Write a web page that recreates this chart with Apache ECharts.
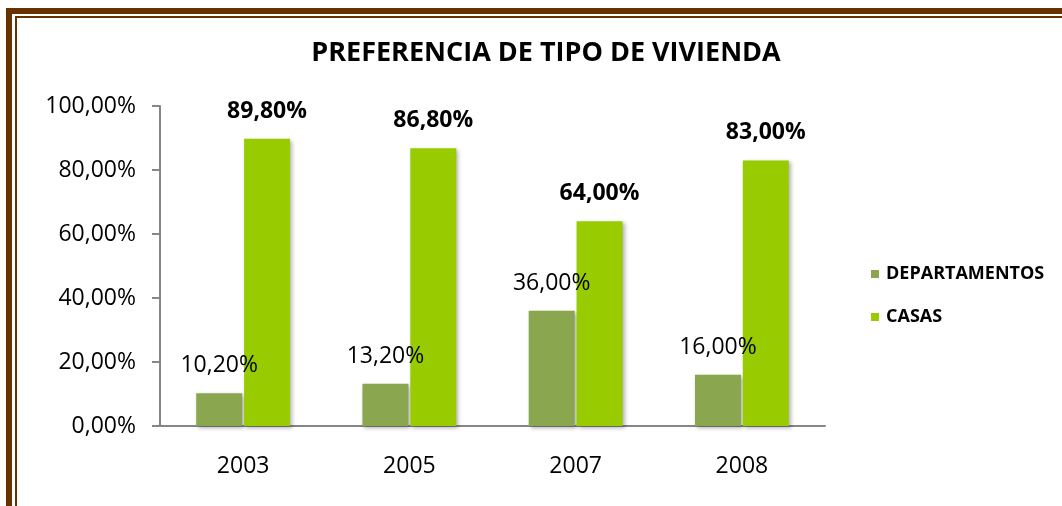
<!DOCTYPE html>
<html lang="es">
<head>
    <meta charset="UTF-8">
    <title>Preferencia de tipo de vivienda</title>
    <script type="text/javascript" src="https://cdn.jsdelivr.net/npm/echarts@6/dist/echarts.min.js"></script>
    <style type="text/css">
        html,body{margin:0;padding:0;background:#fff;}
        #main{position:absolute;left:0;top:0;width:1062px;height:506px;}
        .frameOut{position:absolute;left:6px;top:8px;width:1200px;height:600px;
            border-left:6px solid #663300;border-top:6px solid #663300;pointer-events:none;}
        .frameIn{position:absolute;left:15px;top:16px;width:1200px;height:600px;
            border-left:2px solid #663300;border-top:2px solid #663300;pointer-events:none;}
    </style>
</head>
<body>
<div id="main"></div>
<div class="frameOut"></div>
<div class="frameIn"></div>
<script type="text/javascript">
    // datos del grafico
    var years = ["2003", "2005", "2007", "2008"];
    var departamentos = [10.2, 13.2, 36.0, 16.0];
    var casas = [89.8, 86.8, 64.0, 83.0];
    var yTicks = [0, 20, 40, 60, 80, 100];

    var fontFam = "'Open Sans', sans-serif";

    function pct(v) {
        return v.toFixed(2).replace('.', ',') + '%';
    }

    var myChart = echarts.init(document.getElementById('main'));
    var option = {
        backgroundColor: 'transparent',
        textStyle: {fontFamily: fontFam},
        title: {
            text: 'PREFERENCIA DE TIPO DE VIVIENDA',
            left: 541,
            textAlign: 'center',
            top: 35,
            textStyle: {color: '#000', fontWeight: 'bold', fontSize: 27, fontFamily: fontFam}
        },
        legend: {
            orient: 'vertical',
            left: 866,
            top: 260,
            itemWidth: 8,
            itemHeight: 8,
            itemGap: 25,
            icon: 'rect',
            textStyle: {color: '#000', fontWeight: 'bold', fontSize: 18, fontFamily: fontFam, padding: [0, 0, 0, 2]},
            data: ['DEPARTAMENTOS', 'CASAS']
        },
        grid: {left: 160, right: 237, top: 106, bottom: 80},
        xAxis: {
            type: 'category',
            data: years,
            axisLine: {lineStyle: {color: '#868686', width: 2}},
            axisTick: {show: false},
            axisLabel: {color: '#000', fontSize: 23, margin: 29, fontFamily: fontFam}
        },
        yAxis: {
            type: 'value',
            min: yTicks[0],
            max: yTicks[yTicks.length - 1],
            interval: 20,
            splitLine: {show: false},
            axisLine: {show: true, lineStyle: {color: '#868686', width: 2}},
            axisTick: {show: true, length: 8, lineStyle: {color: '#868686', width: 2}},
            axisLabel: {
                color: '#000', fontSize: 23, margin: 24, fontFamily: fontFam,
                formatter: function (v) { return pct(v); }
            }
        },
        series: [{
            name: 'DEPARTAMENTOS',
            type: 'bar',
            data: departamentos,
            barWidth: 46,
            barGap: '4%',
            itemStyle: {
                color: '#8aa64f',
                shadowColor: 'rgba(0,0,0,0.3)', shadowBlur: 4, shadowOffsetX: 2, shadowOffsetY: 2
            },
            label: {
                show: true, position: 'top', distance: 16,
                color: '#000', fontSize: 23, fontFamily: fontFam,
                formatter: function (p) { return pct(p.value); }
            }
        }, {
            name: 'CASAS',
            type: 'bar',
            data: casas,
            barWidth: 46,
            itemStyle: {
                color: '#99cc00',
                shadowColor: 'rgba(0,0,0,0.3)', shadowBlur: 4, shadowOffsetX: 2, shadowOffsetY: 2
            },
            label: {
                show: true, position: 'top', distance: 16,
                color: '#000', fontSize: 23, fontWeight: 'bold', fontFamily: fontFam,
                formatter: function (p) { return pct(p.value); }
            }
        }]
    };
    myChart.setOption(option);
</script>
</body>
</html>
